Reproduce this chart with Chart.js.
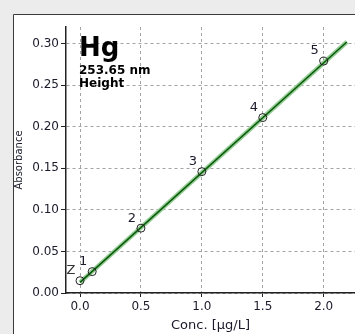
<!DOCTYPE html>
<html>
<head>
<meta charset="utf-8">
<script src="https://cdn.jsdelivr.net/npm/chart.js@4"></script>
<style>
  html, body { margin: 0; padding: 0; background: #ececec; overflow: hidden; }
  #wrap { width: 355px; height: 334px; position: relative; }
</style>
</head>
<body>
<div id="wrap"><canvas id="calChart" width="355" height="334"></canvas></div>
<script>
// Hg calibration curve
const pointLabels = ['Z', '1', '2', '3', '4', '5'];
const concValues = [0.0, 0.1, 0.5, 1.0, 1.5, 2.0];
const absValues = [0.0148, 0.0257, 0.078, 0.146, 0.211, 0.279];

// fitted line end points
const fitConc = [0.0, 2.19];
const fitAbs = [0.0128, 0.302];

const xTicks = [0.0, 0.5, 1.0, 1.5, 2.0];
const yTicks = [0.00, 0.05, 0.10, 0.15, 0.20, 0.25, 0.30];

const FONT = 'DejaVu Sans';

// gray window + white panel behind the chart
const panelPlugin = {
    id: 'panel',
    beforeDraw(chart) {
        const ctx = chart.ctx;
        ctx.save();
        ctx.fillStyle = '#ececec';
        ctx.fillRect(0, 0, chart.width, chart.height);
        ctx.fillStyle = '#ffffff';
        ctx.fillRect(13, 14, chart.width - 13, chart.height - 14);
        ctx.strokeStyle = '#3a3a3a';
        ctx.lineWidth = 1;
        ctx.beginPath();
        ctx.moveTo(13.5, chart.height);
        ctx.lineTo(13.5, 14.5);
        ctx.lineTo(chart.width, 14.5);
        ctx.stroke();
        ctx.restore();
    }
};

// element name, wavelength and the standard labels
const textPlugin = {
    id: 'texts',
    afterDatasetsDraw(chart) {
        const ctx = chart.ctx;
        const x = chart.scales.x, y = chart.scales.y;
        ctx.save();
        ctx.fillStyle = '#000';
        ctx.textAlign = 'left';
        ctx.textBaseline = 'alphabetic';
        ctx.font = 'bold 26px ' + FONT;
        ctx.fillText('Hg', 79, 56);
        ctx.font = 'bold 12px ' + FONT;
        ctx.fillText('253.65 nm', 79, 74);
        ctx.fillText('Height', 79, 87);

        ctx.font = '13px ' + FONT;
        ctx.textAlign = 'center';
        ctx.textBaseline = 'middle';
        pointLabels.forEach((lab, i) => {
            const px = x.getPixelForValue(concValues[i]);
            const py = y.getPixelForValue(absValues[i]);
            ctx.fillStyle = lab === 'Z' ? '#333' : '#1a1a2a';
            ctx.fillText(lab, px - 9, py - 10);
        });
        ctx.restore();
    }
};

const gridOpts = {
    color: '#a3a3a3',
    tickColor: '#222',
    tickBorderDash: [],
    tickWidth: 1
};

new Chart(document.getElementById('calChart'), {
    type: 'scatter',
    data: {
        datasets: [
            {
                data: concValues.map((c, i) => ({ x: c, y: absValues[i] })),
                pointStyle: 'circle',
                pointRadius: 4,
                borderColor: '#222',
                borderWidth: 1,
                backgroundColor: 'rgba(0,0,0,0)',
                order: 1
            },
            {
                type: 'line',
                data: fitConc.map((c, i) => ({ x: c, y: fitAbs[i] })),
                borderColor: '#075a07',
                borderWidth: 1.5,
                pointRadius: 0,
                order: 2
            },
            {
                type: 'line',
                data: fitConc.map((c, i) => ({ x: c, y: fitAbs[i] })),
                borderColor: '#96cc96',
                borderWidth: 4.5,
                pointRadius: 0,
                order: 3
            }
        ]
    },
    options: {
        responsive: false,
        animation: false,
        events: [],
        layout: { autoPadding: false, padding: { left: 0, top: 27, right: 0, bottom: 0 } },
        plugins: { legend: { display: false }, tooltip: { enabled: false } },
        scales: {
            x: {
                type: 'linear',
                min: -0.115,
                max: 2.257,
                afterFit(scale) {
                    scale.height = 41;
                    scale.paddingLeft = 0;
                    scale.paddingRight = 0;
                },
                afterBuildTicks(scale) { scale.ticks = xTicks.map(v => ({ value: v })); },
                border: { color: '#222', width: 1.5, dash: [3, 3] },
                grid: Object.assign({ tickLength: 4 }, gridOpts),
                ticks: {
                    padding: 3,
                    color: '#1a1a2a',
                    font: { family: FONT, size: 12 },
                    maxRotation: 0,
                    callback: v => Number(v).toFixed(1)
                },
                title: {
                    display: true,
                    text: 'Conc. [µg/L]',
                    color: '#1a1a2a',
                    font: { family: FONT, size: 13 },
                    padding: { top: 0, bottom: 1 }
                }
            },
            y: {
                min: 0,
                max: 0.32,
                afterFit(scale) {
                    scale.width = 66;
                    scale.paddingTop = 0;
                    scale.paddingBottom = 0;
                },
                afterBuildTicks(scale) { scale.ticks = yTicks.map(v => ({ value: v })); },
                border: { color: '#222', width: 1.5, dash: [3, 3] },
                grid: Object.assign({ tickLength: 5 }, gridOpts),
                ticks: {
                    padding: 2,
                    color: '#1a1a2a',
                    font: { family: FONT, size: 12 },
                    callback: v => Number(v).toFixed(2)
                },
                title: {
                    display: true,
                    text: 'Absorbance',
                    color: '#1a1a2a',
                    font: { family: FONT, size: 10 },
                    padding: { top: 13, bottom: 0 }
                }
            }
        }
    },
    plugins: [panelPlugin, textPlugin]
});
</script>
</body>
</html>
